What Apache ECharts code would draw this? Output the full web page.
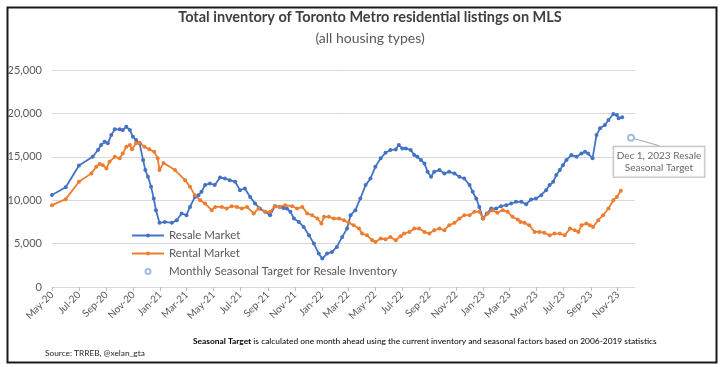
<!DOCTYPE html>
<html>
<head>
<meta charset="utf-8">
<script src="https://cdn.jsdelivr.net/npm/echarts@6/dist/echarts.min.js"></script>
<style>
html,body{margin:0;padding:0;background:#fff;}
#chart{width:720px;height:367px;}
</style>
</head>
<body>
<div id="chart"></div>
<script>
// ---- Data ----
const resale = [
['2020-05-01',10600],['2020-06-01',11500],['2020-07-01',14000],['2020-08-01',15000],['2020-08-13',15780],['2020-08-20',16350],['2020-08-28',16730],['2020-09-04',16550],['2020-09-12',17500],['2020-09-20',18160],['2020-10-01',18160],['2020-10-08',18080],['2020-10-16',18460],['2020-10-24',18080],['2020-10-31',17310],['2020-11-07',16930],['2020-11-15',16550],['2020-11-23',14620],['2020-11-28',13470],['2020-12-04',12690],['2020-12-11',11540],['2020-12-17',10200],['2020-12-22',8850],['2020-12-30',7390],
['2021-01-11',7500],['2021-01-27',7390],['2021-02-07',7700],['2021-02-18',8470],['2021-03-01',8270],['2021-03-09',9230],['2021-03-20',10380],['2021-03-28',10580],['2021-04-04',10960],['2021-04-12',11740],['2021-04-23',11930],['2021-05-04',11740],['2021-05-16',12620],['2021-05-27',12500],['2021-06-07',12310],['2021-06-19',12120],['2021-06-30',11160],['2021-07-11',11350],['2021-07-23',10380],['2021-08-03',9620],['2021-08-14',9040],['2021-08-26',8660],['2021-09-06',8270],['2021-09-17',9310],['2021-09-28',9230],['2021-10-06',9100],['2021-10-14',9040],['2021-10-22',8660],['2021-10-30',7890],['2021-11-10',7500],['2021-11-21',6920],['2021-12-03',5960],['2021-12-14',5000],['2021-12-25',3850],
['2022-01-02',3270],['2022-01-13',3850],['2022-01-24',4040],['2022-02-04',4620],['2022-02-16',5770],['2022-02-27',6730],['2022-03-07',8270],['2022-03-18',8850],['2022-03-29',10200],['2022-04-10',11740],['2022-04-21',12500],['2022-05-02',13850],['2022-05-14',14820],['2022-05-25',15470],['2022-06-05',15780],['2022-06-17',15850],['2022-06-24',16350],['2022-07-02',15970],['2022-07-10',15970],['2022-07-21',15780],['2022-07-29',15200],['2022-08-05',15000],['2022-08-13',14620],['2022-08-21',14240],['2022-08-28',13270],['2022-09-05',12690],['2022-09-12',13270],['2022-09-24',13470],['2022-10-05',13080],['2022-10-16',13270],['2022-10-28',13080],['2022-11-08',12690],['2022-11-19',12500],['2022-12-01',11740],['2022-12-08',10960],['2022-12-16',10200],['2022-12-23',9230],['2022-12-31',7890],
['2023-01-09',8470],['2023-01-19',9040],['2023-01-30',9040],['2023-02-10',9310],['2023-02-22',9430],['2023-03-05',9620],['2023-03-16',9810],['2023-03-28',9810],['2023-04-08',9540],['2023-04-19',10080],['2023-04-30',10200],['2023-05-12',10580],['2023-05-23',11160],['2023-05-31',11740],['2023-06-08',12120],['2023-06-15',12890],['2023-06-23',13470],['2023-06-30',14040],['2023-07-08',14620],['2023-07-19',15200],['2023-07-31',15000],['2023-08-11',15390],['2023-08-19',15580],['2023-08-26',15390],['2023-09-05',14820],['2023-09-14',17500],['2023-09-22',18280],['2023-10-03',18660],['2023-10-11',19240],['2023-10-22',19930],['2023-10-30',19810],['2023-11-03',19430],['2023-11-11',19550]
];

const rental = [
['2020-05-01',9430],['2020-06-01',10120],['2020-07-01',12120],['2020-07-29',13090],['2020-08-09',13850],['2020-08-17',14160],['2020-08-24',14040],['2020-09-01',13660],['2020-09-08',14430],['2020-09-20',15000],['2020-10-01',14820],['2020-10-08',15390],['2020-10-16',16160],['2020-10-24',16350],['2020-10-29',15860],['2020-11-07',16550],['2020-11-15',16620],['2020-11-26',16160],['2020-12-07',15860],['2020-12-18',15580],['2020-12-26',14820],['2020-12-30',13470],
['2021-01-08',14300],['2021-02-03',13470],['2021-02-26',12310],['2021-03-09',11540],['2021-03-20',10580],['2021-04-01',10000],['2021-04-12',9620],['2021-04-27',8850],['2021-05-05',9230],['2021-05-20',9230],['2021-05-31',9040],['2021-06-11',9310],['2021-06-23',9230],['2021-07-04',9040],['2021-07-16',9230],['2021-07-31',8470],['2021-08-11',9040],['2021-08-26',8660],['2021-09-06',8660],['2021-09-17',9310],['2021-09-28',9230],['2021-10-10',9430],['2021-10-26',9310],['2021-11-06',9040],['2021-11-18',9230],['2021-11-29',8470],['2021-12-10',8270],['2021-12-22',7890],['2021-12-31',7310],
['2022-01-06',8080],['2022-01-17',8080],['2022-01-28',7890],['2022-02-09',7890],['2022-02-20',7700],['2022-03-03',7390],['2022-03-14',7120],['2022-03-26',6730],['2022-04-02',6160],['2022-04-13',5960],['2022-04-25',5390],['2022-05-02',5190],['2022-05-14',5580],['2022-05-25',5500],['2022-06-05',5770],['2022-06-17',5390],['2022-06-28',5850],['2022-07-06',6160],['2022-07-18',6350],['2022-07-29',6730],['2022-08-09',6730],['2022-08-21',6350],['2022-09-01',6160],['2022-09-12',6540],['2022-09-24',6730],['2022-10-05',6540],['2022-10-16',7120],['2022-10-28',7390],['2022-11-08',7890],['2022-11-19',8270],['2022-12-01',8270],['2022-12-12',8660],['2022-12-23',8660],
['2023-01-01',7890],['2023-01-11',8470],['2023-01-22',8850],['2023-02-02',8560],['2023-02-14',8850],['2023-02-25',8660],['2023-03-08',8080],['2023-03-20',7770],['2023-03-26',7500],['2023-04-04',7390],['2023-04-15',7120],['2023-04-27',6350],['2023-05-08',6350],['2023-05-19',6250],['2023-05-31',5960],['2023-06-11',6160],['2023-06-23',6160],['2023-07-04',5960],['2023-07-16',6730],['2023-07-27',6540],['2023-08-04',6350],['2023-08-11',7120],['2023-08-22',7310],['2023-08-30',7120],['2023-09-06',6920],['2023-09-18',7700],['2023-09-29',8270],['2023-10-11',9040],['2023-10-22',10000],['2023-10-30',10380],['2023-11-08',11080]
];

const target = [['2023-12-01',17200]];

const xTickDates = ['2020-05-01','2020-07-01','2020-09-01','2020-11-01','2021-01-01','2021-03-01','2021-05-01','2021-07-01','2021-09-01','2021-11-01','2022-01-01','2022-03-01','2022-05-01','2022-07-01','2022-09-01','2022-11-01','2023-01-01','2023-03-01','2023-05-01','2023-07-01','2023-09-01','2023-11-01'];
const monthNames = ['Jan','Feb','Mar','Apr','May','Jun','Jul','Aug','Sep','Oct','Nov','Dec'];
const xMin = '2020-05-01', xMax = '2023-12-10';

const titleText = 'Total inventory of Toronto Metro residential listings on MLS';
const subtitleText = '(all housing types)';
const sourceText = 'Source: TRREB, @xelan_gta';
const noteBold = 'Seasonal Target';
const noteRest = ' is calculated one month ahead using the current inventory and seasonal factors based on 2006-2019 statistics';
const calloutText = 'Dec 1, 2023 Resale\nSeasonal Target';

// ---- Helpers ----
function toTime(s){ const p = s.split('-'); return Date.UTC(+p[0], +p[1]-1, +p[2]); }
function toPoints(arr){ return arr.map(function (d) { return [toTime(d[0]), d[1]]; }); }
const tickValues = xTickDates.map(toTime);
const FONT = 'Lato, "Open Sans", sans-serif';

const chart = echarts.init(document.getElementById('chart'), null, {renderer:'canvas'});
chart.setOption({
  animation: false,
  backgroundColor: '#fff',
  textStyle: { fontFamily: FONT },
  grid: { left: 52, right: 85, top: 70, bottom: 80, outerBoundsMode: 'none' },
  legend: {
    orient: 'vertical', left: 131, top: 229, padding: 0,
    itemWidth: 32, itemHeight: 5, itemGap: 5,
    textStyle: { fontSize: 11.5, color: '#595959', fontFamily: FONT, lineHeight: 13 },
    data: ['Resale Market', 'Rental Market', 'Monthly Seasonal Target for Resale Inventory']
  },
  xAxis: {
    type: 'value', min: toTime(xMin), max: toTime(xMax), scale: true,
    axisLine: { show: true, onZero: false, lineStyle: { color: '#d9d9d9', width: 1 } },
    axisTick: { show: true, customValues: tickValues, length: 4, lineStyle: { color: '#bfbfbf' } },
    axisLabel: {
      customValues: tickValues, rotate: 45, fontSize: 10, color: '#595959', margin: 6, fontFamily: FONT,
      formatter: function (v) { const d = new Date(v); return monthNames[d.getUTCMonth()] + '-' + String(d.getUTCFullYear()).slice(2); }
    },
    splitLine: { show: false }
  },
  yAxis: {
    type: 'value', min: 0, max: 25000, interval: 5000,
    axisLine: { show: false }, axisTick: { show: false },
    axisLabel: { fontSize: 11, color: '#595959', margin: 10, fontFamily: FONT,
      formatter: function (v) { return v.toLocaleString('en-US'); } },
    splitLine: { lineStyle: { color: '#d9d9d9', width: 1 } }
  },
  series: [
    { name: 'Resale Market', type: 'line', data: toPoints(resale), symbol: 'circle', symbolSize: 4, showSymbol: true,
      lineStyle: { color: '#4472C4', width: 1.8 }, itemStyle: { color: '#4472C4' } },
    { name: 'Rental Market', type: 'line', data: toPoints(rental), symbol: 'circle', symbolSize: 4, showSymbol: true,
      lineStyle: { color: '#ED7D31', width: 1.8 }, itemStyle: { color: '#ED7D31' } },
    { name: 'Monthly Seasonal Target for Resale Inventory', type: 'scatter', data: toPoints(target),
      symbol: 'emptyCircle', symbolSize: 6,
      itemStyle: { color: '#8FAADC', borderColor: '#8FAADC', borderWidth: 1.2 },
      label: { show: true, position: 'inside', formatter: calloutText, fontSize: 10, color: '#404040',
        fontFamily: FONT, lineHeight: 12, align: 'center', backgroundColor: '#fff',
        borderColor: '#a6a6a6', borderWidth: 1, padding: [3, 3] },
      labelLayout: { dx: 28, dy: 24 },
      labelLine: { show: true, lineStyle: { color: '#a6a6a6', width: 1 } }
    }
  ],
  graphic: [
    { type: 'rect', left: 5, top: 5, shape: { width: 709, height: 355 }, style: { fill: 'none', stroke: '#1a1a1a', lineWidth: 2 }, silent: true },
    { type: 'text', x: 370, y: 17, style: { text: titleText, font: 'bold 14.5px ' + FONT, fill: '#404040', align: 'center', verticalAlign: 'middle' } },
    { type: 'text', x: 370, y: 38, style: { text: subtitleText, font: '14px ' + FONT, fill: '#595959', align: 'center', verticalAlign: 'middle' } },
    { type: 'text', x: 45, y: 353, style: { text: sourceText, font: '8.3px ' + FONT, fill: '#262626', verticalAlign: 'middle' } },
    { type: 'text', x: 193, y: 341, style: {
        text: '{b|' + noteBold + '}{n|' + noteRest + '}', verticalAlign: 'middle',
        rich: { b: { fontFamily: FONT, fontSize: 8.4, fontWeight: 'bold', color: '#000' },
                n: { fontFamily: FONT, fontSize: 8.4, color: '#262626' } } } }
  ]
});
</script>
</body>
</html>
